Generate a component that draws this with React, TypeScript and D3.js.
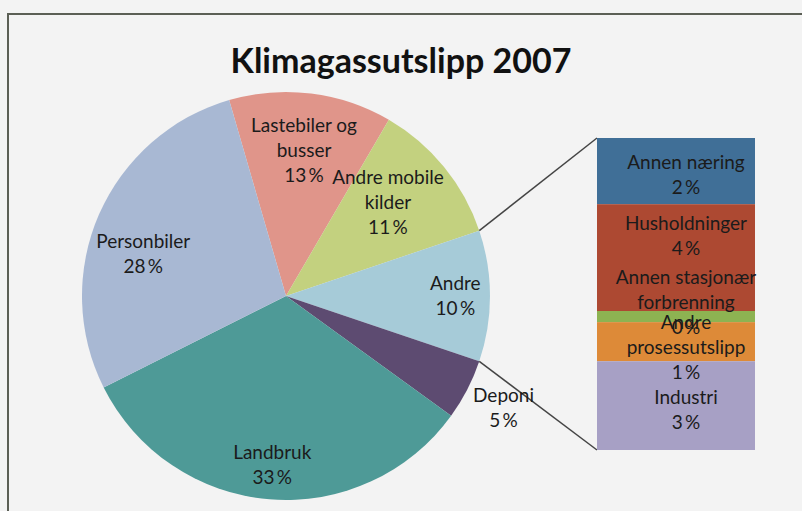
import { useEffect, useRef } from "react";
import * as d3 from "d3";

const title = "Klimagassutslipp 2007";

// bar of "Andre" (right side)
const barNames = ["Annen næring", "Husholdninger", "Annen stasjonær forbrenning", "Andre prosessutslipp", "Industri"];
const barValues = [2.2, 3.55, 0.37, 1.3, 2.95];
const barLines = [["Annen næring"], ["Husholdninger"], ["Annen stasjonær", "forbrenning"], ["Andre", "prosessutslipp"], ["Industri"]];
const barColors = ["#406f97", "#ad4932", "#8db352", "#dd8a38", "#a7a0c5"];

// main pie, clockwise from Lastebiler
const pieNames = ["Lastebiler og busser", "Andre mobile kilder", "Andre", "Deponi", "Landbruk", "Personbiler"];
const pieValues = [12.9, 11.4, d3.sum(barValues), 4.8, 32.6, 27.9];
const pieLines = [["Lastebiler og", "busser"], ["Andre mobile", "kilder"], ["Andre"], ["Deponi"], ["Landbruk"], ["Personbiler"]];
const pieColors = ["#e0958a", "#c3d17f", "#a6cbd8", "#5d4b71", "#4e9a97", "#a8b8d3"];

const width = 802;
const height = 511;
const font = "Lato, 'Open Sans', sans-serif";

// label placement tweaks (Excel puts them a bit irregularly)
const labelRadius: Record<string, number> = {
    "Lastebiler og busser": 0.72,
    "Andre mobile kilder": 0.68,
    "Andre": 0.83,
    "Deponi": 1.2,
    "Landbruk": 0.83,
    "Personbiler": 0.73
};
const labelTurn: Record<string, number> = { // degrees
    "Andre mobile kilder": -3.5,
    "Personbiler": -7
};
const barLabelShift: Record<string, number> = {
    "Annen næring": 4,
    "Husholdninger": -22,
    "Annen stasjonær forbrenning": -14,
    "Andre prosessutslipp": 6,
    "Industri": 4
};

function App() {
    const ref = useRef<SVGSVGElement>(null);

    useEffect(() => {
        const svg = d3.select(ref.current);
        svg.selectAll("*").remove();

        svg.append("rect").attr("width", width).attr("height", height).attr("fill", "#f3f3f3");

        // chart frame, runs off the right and bottom edge like in the photo
        svg.append("path")
            .attr("d", `M8,${height + 5} L8,14 L${width + 5},14`)
            .attr("fill", "none")
            .attr("stroke", "#5b5f55")
            .attr("stroke-width", 2);

        svg.append("text")
            .text(title)
            .attr("x", 401)
            .attr("y", 73)
            .attr("text-anchor", "middle")
            .style("font-family", font)
            .style("font-weight", "bold")
            .style("font-size", "34px")
            .attr("fill", "#111");

        const cx = 286, cy = 296, r = 204;
        const total = d3.sum(pieValues);
        const andreIdx = pieNames.indexOf("Andre");
        const before = d3.sum(pieValues.slice(0, andreIdx));
        // rotate so the "Andre" slice points right at the bar
        const start = Math.PI / 2 - (before + pieValues[andreIdx] / 2) / total * 2 * Math.PI;

        const pie = d3.pie<number>().sort(null).value(d => d)
            .startAngle(start).endAngle(start + 2 * Math.PI);
        const arcs = pie(pieValues);
        const arc = d3.arc<d3.PieArcDatum<number>>().innerRadius(0).outerRadius(r);

        const g = svg.append("g").attr("transform", `translate(${cx},${cy})`);
        g.selectAll("path")
            .data(arcs)
            .join("path")
            .attr("d", arc)
            .attr("fill", (d, i) => pieColors[i]);

        // connector lines to the bar
        const barX = 597, barW = 158;
        const y = d3.scaleLinear([0, d3.sum(barValues)], [138, 450]);
        const a = arcs[andreIdx];
        const p0 = [cx + r * Math.sin(a.startAngle), cy - r * Math.cos(a.startAngle)];
        const p1 = [cx + r * Math.sin(a.endAngle), cy - r * Math.cos(a.endAngle)];
        svg.append("line").attr("x1", p0[0]).attr("y1", p0[1]).attr("x2", barX).attr("y2", y(0))
            .attr("stroke", "#444").attr("stroke-width", 1.5);
        svg.append("line").attr("x1", p1[0]).attr("y1", p1[1]).attr("x2", barX).attr("y2", y(d3.sum(barValues)))
            .attr("stroke", "#444").attr("stroke-width", 1.5);

        // stacked bar
        const stackStart = d3.cumsum([0, ...barValues]);
        svg.selectAll("rect.seg")
            .data(barValues)
            .join("rect")
            .attr("class", "seg")
            .attr("x", barX)
            .attr("width", barW)
            .attr("y", (d, i) => y(stackStart[i]))
            .attr("height", d => y(d) - y(0))
            .attr("fill", (d, i) => barColors[i]);

        const lineH = 25;
        function drawLabel(x: number, yc: number, lines: string[]) {
            const t = svg.append("text")
                .attr("text-anchor", "middle")
                .style("font-family", font)
                .style("font-size", "19px")
                .attr("fill", "#1b1b1b");
            const y0 = yc - (lines.length - 1) * lineH / 2;
            lines.forEach((l, i) => {
                t.append("tspan").attr("x", x).attr("y", y0 + i * lineH).attr("dy", "0.35em").text(l);
            });
        }

        arcs.forEach((d, i) => {
            const lr = r * labelRadius[pieNames[i]];
            const mid = (d.startAngle + d.endAngle) / 2 + (labelTurn[pieNames[i]] || 0) * Math.PI / 180;
            drawLabel(cx + lr * Math.sin(mid), cy - lr * Math.cos(mid),
                [...pieLines[i], Math.round(pieValues[i]) + "\u2009%"]);
        });

        barValues.forEach((v, i) => {
            const yc = (y(stackStart[i]) + y(stackStart[i + 1])) / 2 + (barLabelShift[barNames[i]] || 0);
            drawLabel(barX + barW / 2 + 10, yc, [...barLines[i], Math.round(v) + "\u2009%"]);
        });
    }, []);

    return (
        <svg ref={ref} width={width} height={height} style={{ position: "absolute", left: 0, top: 0 }} />
    );
}

export default App;
